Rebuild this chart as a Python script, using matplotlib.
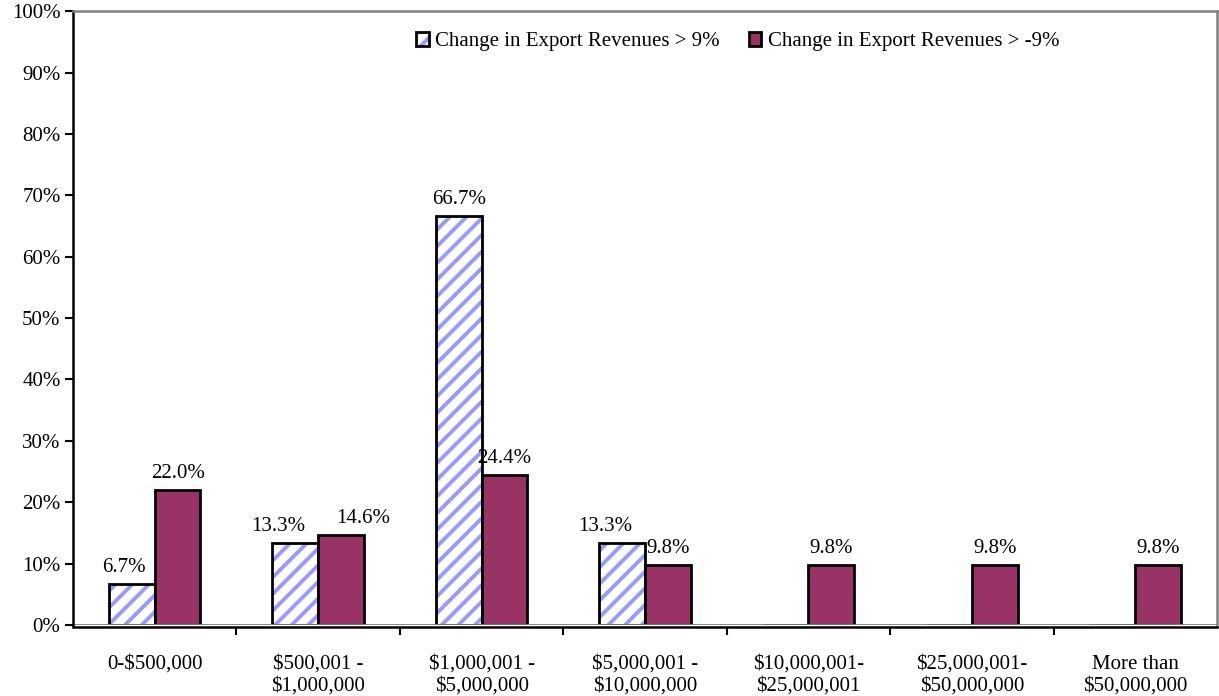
import matplotlib
matplotlib.use("Agg")
import matplotlib.pyplot as plt
import numpy as np

# Data
categories = [
    "0-$500,000",
    "$500,001 -\n$1,000,000",
    "$1,000,001 -\n$5,000,000",
    "$5,000,001 -\n$10,000,000",
    "$10,000,001-\n$25,000,001",
    "$25,000,001-\n$50,000,000",
    "More than\n$50,000,000",
]
growth_up = [6.7, 13.3, 66.7, 13.3, 0.0, 0.0, 0.0]
growth_down = [22.0, 14.6, 24.4, 9.8, 9.8, 9.8, 9.8]
series_names = ["Change in Export Revenues > 9%", "Change in Export Revenues > -9%"]
y_ticks = list(range(0, 101, 10))

plt.rcParams["font.family"] = ["Liberation Serif", "DejaVu Serif"]
plt.rcParams["hatch.color"] = "#9999FF"
plt.rcParams["hatch.linewidth"] = 2.8

FS = 15

fig = plt.figure(figsize=(12.19, 6.96), dpi=100)
ax = fig.add_axes([0.0599, 0.102, 0.9385, 0.882])

x = np.arange(len(categories))
w = 0.28

bars1 = ax.bar(x - w / 2, growth_up, w, color="white", hatch="//",
               edgecolor="black", linewidth=2.0, label=series_names[0])
bars2 = ax.bar(x + w / 2, growth_down, w, color="#993366",
               edgecolor="black", linewidth=2.0, label=series_names[1])
# keep the hatch blue while the edge stays black
for b in bars1:
    b._hatch_color = matplotlib.colors.to_rgba("#9999FF")

# labels that the original nudged sideways so they don't collide (points)
nudge = {(0, 0): -6, (0, 1): -12, (1, 1): 16, (0, 3): -12}

for si, (bars, vals) in enumerate(((bars1, growth_up), (bars2, growth_down))):
    for ci, (b, v) in enumerate(zip(bars, vals)):
        if v <= 0:
            continue
        ax.annotate(f"{v:.1f}%", (b.get_x() + b.get_width() / 2, v),
                    xytext=(nudge.get((si, ci), 0), 5), textcoords="offset points",
                    ha="center", va="bottom", fontsize=FS)

ax.set_xlim(-0.5, len(categories) - 0.5)
ax.set_ylim(0, 100)
ax.set_yticks(y_ticks)
ax.set_yticklabels([f"{t}%" for t in y_ticks])

ax.set_xticks(x)
ax.set_xticklabels(categories, linespacing=1.45)
ax.set_xticks(np.arange(len(categories) - 1) + 0.5, minor=True)
ax.tick_params(axis="x", which="major", length=0, pad=20, labelsize=FS)
ax.tick_params(axis="x", which="minor", length=6, width=1.5, direction="out")
ax.tick_params(axis="y", length=6, width=1.5, direction="out", labelsize=FS, pad=3)

ax.axhline(0, color="#808080", linewidth=2, zorder=1)
ax.spines["left"].set_linewidth(1.8)
ax.spines["bottom"].set_linewidth(1.8)
ax.spines["bottom"].set_position(("outward", 1.5))
for s in ("top", "right"):
    ax.spines[s].set_color("#808080")
    ax.spines[s].set_linewidth(1.8)

ax.legend(loc="center", bbox_to_anchor=(0.581, 0.95), ncol=2, frameon=False,
          fontsize=FS, handlelength=0.6, handleheight=0.6,
          handletextpad=0.3, columnspacing=1.4)

fig.savefig("out.png", dpi=100)
